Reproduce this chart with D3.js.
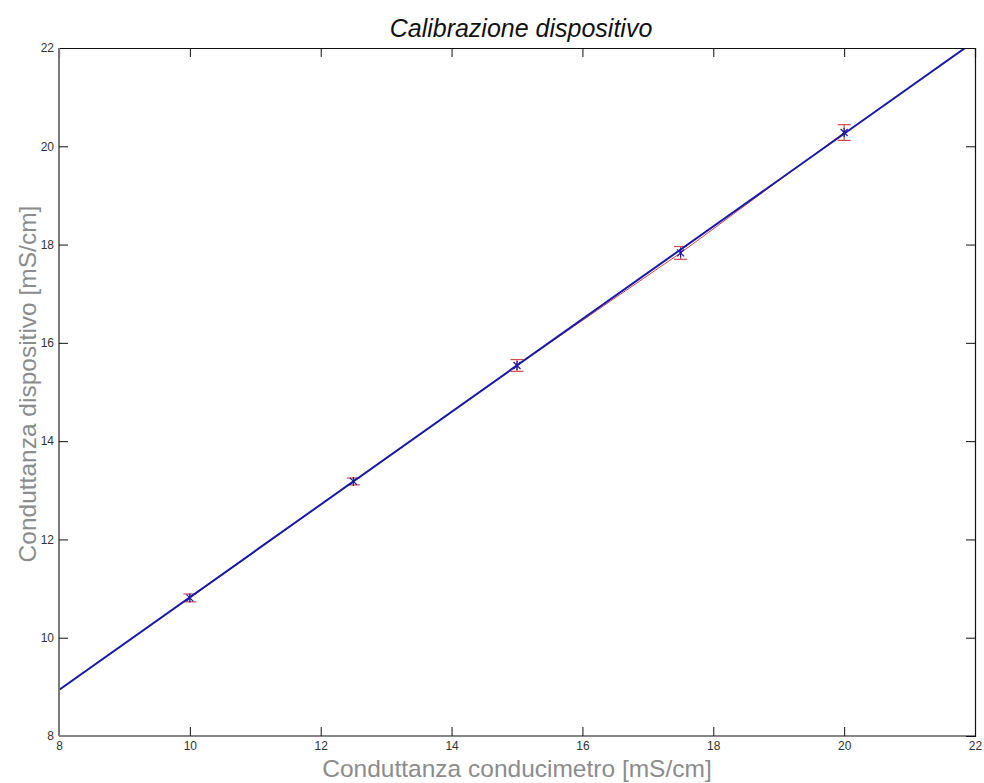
<!DOCTYPE html>
<html>
<head>
<meta charset="utf-8">
<script src="https://cdn.jsdelivr.net/npm/d3@7"></script>
<style>
  html, body { margin: 0; padding: 0; background: #fff; }
  svg { display: block; }
  text { font-family: Arial, "Liberation Sans", sans-serif; }
</style>
</head>
<body>
<svg id="chart" width="984" height="783"></svg>
<script>
// Calibration measurements: reference conductivity meter vs. device reading
const conducimetro = [10, 12.5, 15, 17.5, 20];          // mS/cm
const dispositivo  = [10.81, 13.18, 15.54, 17.83, 20.28]; // mS/cm
const errore       = [0.08, 0.07, 0.12, 0.13, 0.16];      // half-width of error bars

// Linear fit y = slope * x + intercept
const fitSlope = 0.9434;
const fitIntercept = 1.389;

const xTicks = [8, 10, 12, 14, 16, 18, 20, 22];
const yTicks = [8, 10, 12, 14, 16, 18, 20, 22];
const xDomain = [8, 22];
const yDomain = [8, 22];

const title = "Calibrazione dispositivo";
const xLabel = "Conduttanza conducimetro [mS/cm]";
const yLabel = "Conduttanza dispositivo [mS/cm]";

const svg = d3.select("#chart");
const m = { left: 59, right: 975, top: 48, bottom: 736 };

const x = d3.scaleLinear().domain(xDomain).range([m.left, m.right]);
const y = d3.scaleLinear().domain(yDomain).range([m.bottom, m.top]);

const red = "#cc4c4c";
const blue = "#1a1aa6";
const tickLen = 9;

// clip region for the data
svg.append("defs").append("clipPath").attr("id", "plotclip")
  .append("rect")
  .attr("x", m.left).attr("y", m.top)
  .attr("width", m.right - m.left).attr("height", m.bottom - m.top);

const plot = svg.append("g").attr("clip-path", "url(#plotclip)");

// error bars and the line joining the measurements
const pts = conducimetro.map((v, i) => ({ x: v, y: dispositivo[i], e: errore[i] }));

plot.append("path")
  .datum(pts)
  .attr("fill", "none")
  .attr("stroke", red)
  .attr("stroke-width", 1)
  .attr("d", d3.line().x(d => x(d.x)).y(d => y(d.y)));

const capHalf = 6.5;
const eb = plot.append("g").attr("stroke", red).attr("stroke-width", 1.2).attr("fill", "none");
pts.forEach(d => {
  const cx = x(d.x), y0 = y(d.y - d.e), y1 = y(d.y + d.e);
  eb.append("line").attr("x1", cx).attr("x2", cx).attr("y1", y0).attr("y2", y1);
  eb.append("line").attr("x1", cx - capHalf).attr("x2", cx + capHalf).attr("y1", y0).attr("y2", y0);
  eb.append("line").attr("x1", cx - capHalf).attr("x2", cx + capHalf).attr("y1", y1).attr("y2", y1);
});

// fitted line across the full x range
const fitPts = xDomain.map(v => ({ x: v, y: fitSlope * v + fitIntercept }));
plot.append("path")
  .datum(fitPts)
  .attr("fill", "none")
  .attr("stroke", blue)
  .attr("stroke-width", 2)
  .attr("d", d3.line().x(d => x(d.x)).y(d => y(d.y)));

// star markers on the measurements
const mk = plot.append("g").attr("stroke", blue).attr("stroke-width", 1.2);
const r = 3.5;
pts.forEach(d => {
  const cx = x(d.x), cy = y(d.y);
  mk.append("line").attr("x1", cx - r).attr("x2", cx + r).attr("y1", cy - r).attr("y2", cy + r);
  mk.append("line").attr("x1", cx - r).attr("x2", cx + r).attr("y1", cy + r).attr("y2", cy - r);
  mk.append("line").attr("x1", cx).attr("x2", cx).attr("y1", cy - r - 1).attr("y2", cy + r + 1);
});

// axes: box with inward ticks on all four sides
const axisBottom = d3.axisBottom(x).tickValues(xTicks).tickSize(-tickLen).tickPadding(5).tickFormat(d3.format("d"));
const axisTop = d3.axisTop(x).tickValues(xTicks).tickSize(-tickLen).tickFormat("");
const axisLeft = d3.axisLeft(y).tickValues(yTicks).tickSize(-tickLen).tickPadding(5).tickFormat(d3.format("d"));
const axisRight = d3.axisRight(y).tickValues(yTicks).tickSize(-tickLen).tickFormat("");

function style(g, color) {
  g.select(".domain").attr("stroke", color).attr("stroke-width", 1.2);
  g.selectAll(".tick line").attr("stroke", "#111").attr("stroke-width", 1);
  g.selectAll(".tick text").attr("fill", "#333").style("font-size", "12px")
    .style("font-family", "Arial, 'Liberation Sans', sans-serif");
}

svg.append("g").attr("transform", `translate(0,${m.top})`).call(axisTop)
  .call(g => g.selectAll(".tick").filter(d => d === xDomain[0] || d === xDomain[1]).select("line").remove())
  .call(g => style(g, "#111"));
svg.append("g").attr("transform", `translate(${m.right},0)`).call(axisRight)
  .call(g => g.selectAll(".tick").filter(d => d === yDomain[0] || d === yDomain[1]).select("line").remove())
  .call(g => style(g, "#111"));
svg.append("g").attr("transform", `translate(0,${m.bottom})`).call(axisBottom)
  .call(g => g.select(".domain").attr("d", `M${m.left},0H${m.right}`))
  .call(g => g.selectAll(".tick").filter(d => d === xDomain[0] || d === xDomain[1]).select("line").remove())
  .call(g => style(g, "#111"));
svg.append("g").attr("transform", `translate(${m.left},0)`).call(axisLeft)
  .call(g => g.select(".domain").attr("d", `M0,${m.top}V${m.bottom}`))
  .call(g => g.selectAll(".tick").filter(d => d === yDomain[0] || d === yDomain[1]).select("line").remove())
  .call(g => style(g, "#7a7a7a"))
  .call(g => g.select(".domain").attr("stroke-width", 2));

// titles
svg.append("text")
  .attr("x", 521).attr("y", 37)
  .attr("text-anchor", "middle")
  .style("font-size", "25px").style("font-style", "italic")
  .attr("fill", "#111")
  .text(title);

svg.append("text")
  .attr("x", (m.left + m.right) / 2).attr("y", 777)
  .attr("text-anchor", "middle")
  .style("font-size", "24.5px")
  .attr("fill", "#8c8c8c")
  .text(xLabel);

svg.append("text")
  .attr("transform", `translate(36,${(m.top + m.bottom) / 2 - 8}) rotate(-90)`)
  .attr("text-anchor", "middle")
  .style("font-size", "24.5px")
  .attr("fill", "#8c8c8c")
  .text(yLabel);
</script>
</body>
</html>
